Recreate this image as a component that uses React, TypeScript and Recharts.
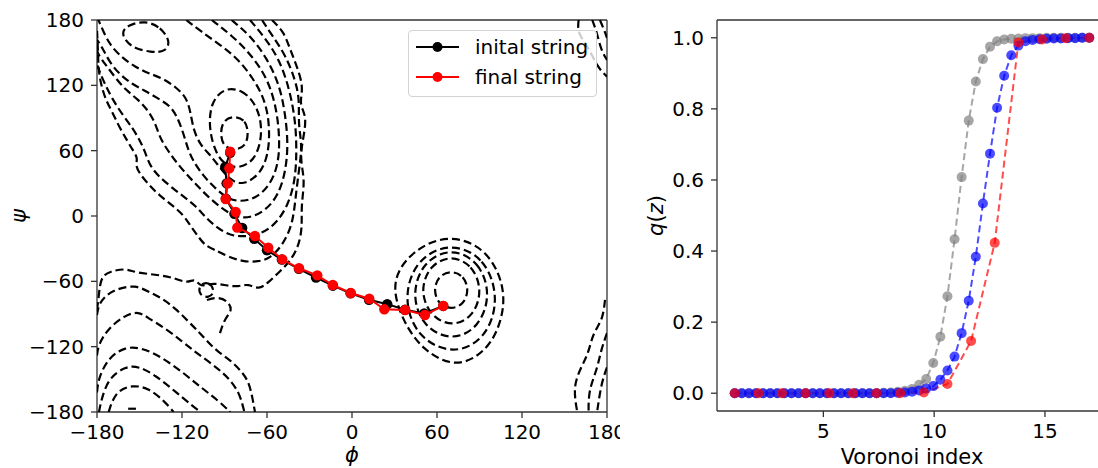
import React from 'react';
import { ScatterChart, Scatter, LineChart, Line, XAxis, YAxis, ReferenceLine } from 'recharts';

type P = [number, number];

const FONT = '"DejaVu Sans", sans-serif';

// ---- left panel: contour lines, [phi, psi] in degrees ----
// closed contours
const basinInner: P[] = [[-83, 92], [-75, 88], [-73, 76], [-75, 64], [-83, 60], [-91, 64], [-93, 76], [-91, 88]];
const basinSecond: P[] = [[-90, 118], [-78, 116], [-69, 105], [-64, 88], [-64, 69], [-69, 51], [-79, 44], [-89, 46], [-96, 57], [-101, 79], [-100, 104]];
const betaEllipse: P[] = [[-146, 179.5], [-135, 173.5], [-128, 160], [-131.5, 151], [-141.5, 150], [-157, 155], [-163.5, 168.5], [-158, 175.5]];
const islandC1: P[] = [[70, -50], [79, -55], [82.5, -68], [79, -81], [70, -86], [61, -81], [57.5, -68], [61, -55]];
const islandC2: P[] = [[70, -36], [85, -45], [92, -68], [86, -92], [71, -102], [55, -92], [48, -68], [55, -45]];
const islandC3: P[] = [[70, -29], [90, -42], [98, -72], [90, -102], [71, -115], [50, -102], [42, -72], [50, -42]];
const islandC4: P[] = [[69, -24], [94, -38], [104, -76], [95, -112], [72, -128], [46, -112], [36, -76], [45, -40]];
const islandC5: P[] = [[68, -16], [96, -30], [109, -68], [105, -100], [95, -124], [74, -140], [50, -124], [35, -95], [27, -60], [42, -32]];
const midLoop: P[] = [[-108, -63], [-101, -60], [-96.5, -69.5], [-101, -75.6], [-108, -72.6]];

// open contours
const valleyA3: P[] = [[-117, 180], [-107, 170], [-93, 157], [-81, 145], [-70, 127], [-61, 106], [-58, 81], [-59, 56], [-65, 38], [-77, 28], [-86, 33], [-93, 44], [-100, 56], [-107, 65], [-112, 79], [-114, 96], [-117, 109], [-124, 118], [-134, 127], [-144, 131], [-153, 137], [-162, 145], [-171, 157], [-176, 171], [-179, 180]];
const valleyA4: P[] = [[-99, 180], [-85, 166], [-71, 148], [-59, 125], [-53, 97], [-51, 70], [-52, 47], [-58, 28], [-68, 16], [-79, 13], [-88, 16], [-97, 26], [-105, 37], [-112, 50], [-116, 62], [-119, 76], [-123, 90], [-128, 101], [-137, 108], [-146, 115], [-155, 121], [-164, 130], [-171, 141], [-176, 154], [-180, 162]];
const valleyA5: P[] = [[-85, 180], [-72, 166], [-60, 145], [-51, 120], [-47, 93], [-45, 65], [-47, 40], [-52, 19], [-61, 5], [-72, -2], [-82, -1], [-92, 7], [-102, 18], [-110, 29], [-118, 40], [-125, 51], [-131, 62], [-136, 73], [-139, 86], [-144, 97], [-151, 107], [-160, 116], [-167, 127], [-174, 139], [-179, 148], [-180, 152]];
const valleyA6: P[] = [[-72, 180], [-61, 163], [-51, 143], [-44, 116], [-40, 88], [-39, 61], [-40, 33], [-45, 10], [-54, -8], [-65, -17], [-76, -19], [-86, -18], [-95, -11], [-103, -2], [-110, 9], [-119, 18], [-128, 27], [-137, 37], [-143, 47], [-146, 59], [-150, 70], [-155, 81], [-162, 93], [-169, 107], [-174, 120], [-178, 132], [-180, 139]];
const valleyA7: P[] = [[-63.5, 180], [-56.5, 166], [-47, 148], [-40, 125], [-37, 106.5], [-38, 83.6], [-35, 65], [-37.5, 42], [-40, 14.7], [-42, -8], [-49, -27], [-58, -39], [-66, -42], [-77, -42], [-88, -37], [-97, -31], [-104, -27], [-109, -18], [-114, -9], [-119, 1], [-127, 10], [-136, 19], [-143, 28], [-150, 39], [-153, 47], [-151, 53], [-155, 61], [-159, 70], [-164, 81], [-169, 95], [-174, 107], [-177, 120], [-179, 134], [-179.3, 152.5], [-180, 171]];
const valleyA8: P[] = [[-56.5, 180], [-48, 169], [-44, 154], [-39, 138], [-34, 117.6], [-37.5, 103], [-32, 92], [-34, 74], [-37, 53], [-33, 33], [-36, 10], [-35, -11], [-38, -29], [-44, -42], [-51, -51], [-59, -61], [-66, -68], [-73, -62], [-80.5, -65], [-88, -64], [-95, -62], [-102, -62.5], [-107, -65], [-111, -57], [-116, -62], [-125, -57], [-137, -54], [-153, -52], [-160, -48], [-171, -51], [-176, -55], [-178, -63], [-179, -77], [-180, -86]];
const lowB1: P[] = [[-158, -177], [-152.5, -177]];
const lowB2: P[] = [[-171.8, -180], [-167, -161], [-155, -155], [-143.5, -158], [-132, -170.5], [-126, -180]];
const lowB3: P[] = [[-178.6, -180], [-177, -169], [-172, -149], [-160, -138], [-150.6, -138], [-139, -146], [-125, -161], [-113, -174], [-107, -180]];
const lowB4: P[] = [[-180, -162], [-179, -149], [-172, -130], [-160, -120], [-148, -121], [-134, -130], [-120, -143], [-106, -158], [-94, -170], [-86, -180]];
const lowB5: P[] = [[-180, -128], [-179, -118], [-172, -103], [-160, -91], [-150.6, -87.5], [-143.5, -94], [-132, -103], [-120, -115], [-111, -124.6], [-101, -133.8], [-92, -143], [-85, -152], [-79, -164], [-76, -180]];
const lowB6: P[] = [[-180, -91], [-179, -82], [-174, -72.6], [-164.7, -66.4], [-153, -63.4], [-143.5, -69.5], [-134, -75.6], [-124.8, -84.8], [-115.3, -97.1], [-108.3, -106.3], [-101.7, -115.7], [-94.6, -124.9], [-86, -132.2], [-79, -141.4], [-73.4, -150.6], [-70.6, -164.4], [-68.5, -180]];
const midWiggle: P[] = [[-102.4, -77.2], [-95.3, -74.4], [-88.3, -77.2], [-84, -86.3], [-89.7, -93.7], [-93.2, -107.5]];
const edgeTR1: P[] = [[160, 180], [159, 168], [167, 155], [173, 137], [180, 128]];
const edgeTR2: P[] = [[169.6, 180], [173, 168], [175.8, 152.5], [180, 143.3]];
const edgeTR3: P[] = [[175, 180], [178, 171], [180, 163.5]];
const edgeBR1: P[] = [[178.6, -77], [177, -95.5], [170, -107.5], [167, -126], [161.6, -139], [156, -157], [159, -180]];
const edgeBR2: P[] = [[180, -107.5], [175.8, -123], [173, -141], [167, -160], [167, -180]];
const edgeBR3: P[] = [[180, -139], [176, -153.4], [173, -180]];

const closedContours = [basinInner, basinSecond, betaEllipse, islandC1, islandC2, islandC3, islandC4, islandC5, midLoop];
const openContours = [valleyA3, valleyA4, valleyA5, valleyA6, valleyA7, valleyA8, lowB1, lowB2, lowB3, lowB4, lowB5, lowB6, midWiggle, edgeTR1, edgeTR2, edgeTR3, edgeBR1, edgeBR2, edgeBR3];

// strings
const initialString: P[] = [[-86, 58], [-89.5, 45], [-88.5, 30], [-89, 16], [-83, 2], [-77.5, -11], [-69, -21], [-60, -31.5], [-49.5, -40], [-37.5, -48.5], [-25.4, -56.5], [-13.5, -64], [-1, -71], [12, -77], [24.9, -81], [37.5, -86], [51, -89.5], [64.4, -82.6]];
const finalString: P[] = [[-86, 59], [-86.6, 43.8], [-87.7, 30], [-89.2, 15.6], [-82.1, 3.7], [-81, -10.7], [-68.5, -18.4], [-59.1, -29.1], [-49.2, -39.8], [-37.4, -48], [-24.5, -54.5], [-13.6, -63.4], [-0.9, -70.7], [12.2, -76], [22.8, -85.7], [37.4, -86.3], [51.5, -90.9], [64.4, -82.6]];

const angleTicks = [-180, -120, -60, 0, 60, 120, 180];
const legendLabels = ['inital string', 'final string'];
const legendColors = ['#000000', '#ff0000'];

// ---- right panel ----
const fineX = [1.0, 1.32, 1.64, 1.96, 2.28, 2.6, 2.92, 3.24, 3.56, 3.88, 4.2, 4.52, 4.84, 5.16, 5.48, 5.8, 6.12, 6.44, 6.76, 7.08, 7.4, 7.72, 8.04, 8.36, 8.68, 9.0, 9.32, 9.64, 9.96, 10.28, 10.6, 10.92, 11.24, 11.56, 11.88, 12.2, 12.52, 12.84, 13.16, 13.48, 13.8, 14.12, 14.44, 14.76, 15.08, 15.4, 15.72, 16.04, 16.36, 16.68, 17.0];
const grayQ = [0, 0, 0, 0, 0, 0, 0, 0, 0, 0, 0, 0, 0, 0, 0, 0, 0, 0, 0, 0, 0, 0.001, 0.002, 0.004, 0.007, 0.012, 0.024, 0.04, 0.085, 0.159, 0.273, 0.433, 0.608, 0.767, 0.877, 0.94, 0.975, 0.99, 0.995, 0.997, 0.998, 0.999, 0.999, 0.999, 1, 1, 1, 1, 1, 1, 1];
const blueQ = [0, 0, 0, 0, 0, 0, 0, 0, 0, 0, 0, 0, 0, 0, 0, 0, 0, 0, 0, 0, 0, 0, 0, 0.001, 0.002, 0.004, 0.008, 0.013, 0.02, 0.038, 0.064, 0.103, 0.169, 0.26, 0.384, 0.534, 0.674, 0.803, 0.893, 0.951, 0.978, 0.99, 0.994, 0.996, 0.997, 0.998, 0.998, 0.999, 0.999, 1, 1];
const redX = [1.0, 2.067, 3.133, 4.2, 5.267, 6.333, 7.4, 8.467, 9.533, 10.6, 11.667, 12.733, 13.8, 14.867, 15.933, 17.0];
const redQ = [0, 0, 0, 0, 0, 0, 0, 0, 0.002, 0.026, 0.147, 0.423, 0.987, 0.995, 0.999, 1];
const qTicks = [0, 0.2, 0.4, 0.6, 0.8, 1.0];
const indexTicks = [5, 10, 15];

const pts = (c: P[]) => c.map(([phi, psi]) => ({ phi, psi }));
const series = (xs: number[], ys: number[]) => xs.map((x, i) => ({ x, q: ys[i] }));

const minus = (v: number) => (v < 0 ? '\u2212' + Math.abs(v) : String(v));
const noShape = () => <g />;
const dotShape = (color: string) => (p: any) => <circle cx={p.cx} cy={p.cy} r={5.2} fill={color} />;

const dash = { stroke: '#000', strokeWidth: 2.2, strokeDasharray: '8 4', fill: 'none' };
const tickStyle = { fill: '#000', fontSize: 20, fontFamily: FONT };
const axisStyle = { stroke: '#333', strokeWidth: 1.3 };

const seriesDot = (color: string) => ({ r: 5, fill: color, fillOpacity: 0.7, stroke: 'none' });

export default function App() {
  return (
    <div style={{ position: 'absolute', left: 0, top: 0, width: 1098, height: 468, overflow: 'hidden', background: '#fff', fontFamily: FONT }}>
      <div style={{ position: 'absolute', left: 0, top: 0 }}>
        <ScatterChart width={620} height={468} margin={{ top: 20, right: 13, bottom: 6, left: 0 }}>
          <XAxis
            type="number"
            dataKey="phi"
            domain={[-180, 180]}
            ticks={angleTicks}
            interval={0}
            allowDataOverflow
            height={50}
            tickSize={6}
            tickMargin={7}
            tick={tickStyle}
            tickLine={axisStyle}
            axisLine={axisStyle}
            tickFormatter={minus}
            label={(p: any) => (
              <text x={p.viewBox.x + p.viewBox.width / 2} y={462} textAnchor="middle" fontSize={21} fontStyle="italic" fontFamily={FONT} fill="#000">ϕ</text>
            )}
          />
          <YAxis
            type="number"
            dataKey="psi"
            domain={[-180, 180]}
            ticks={angleTicks}
            interval={0}
            allowDataOverflow
            width={97}
            tickSize={6}
            tickMargin={7}
            tick={tickStyle}
            tickLine={axisStyle}
            axisLine={axisStyle}
            tickFormatter={minus}
            label={(p: any) => {
              const cy = p.viewBox.y + p.viewBox.height / 2;
              return (
                <text x={19} y={cy} transform={`rotate(-90, 19, ${cy})`} textAnchor="middle" dominantBaseline="central" fontSize={21} fontStyle="italic" fontFamily={FONT} fill="#000">ψ</text>
              );
            }}
          />
          <ReferenceLine y={180} stroke="#333" strokeWidth={1.3} />
          <ReferenceLine x={180} stroke="#333" strokeWidth={1.3} />
          {closedContours.map((c, i) => (
            <Scatter key={'c' + i} data={pts(c)} line={dash} lineJointType="basisClosed" shape={noShape} isAnimationActive={false} />
          ))}
          {openContours.map((c, i) => (
            <Scatter key={'o' + i} data={pts(c)} line={dash} lineJointType="basis" shape={noShape} isAnimationActive={false} />
          ))}
          <Scatter data={pts(initialString)} line={{ stroke: '#000', strokeWidth: 2 }} shape={dotShape('#000')} isAnimationActive={false} />
          <Scatter data={pts(finalString)} line={{ stroke: '#ff0000', strokeWidth: 2 }} shape={dotShape('#ff0000')} isAnimationActive={false} />
        </ScatterChart>
      </div>

      <div style={{ position: 'absolute', left: 408, top: 30, width: 187, height: 65, border: '1px solid #d3d3d3', borderRadius: 4, background: 'rgba(255,255,255,0.8)', fontSize: 20, color: '#000' }}>
        {legendLabels.map((label, i) => (
          <div key={label} style={{ position: 'absolute', left: 0, top: 3 + i * 30, height: 26, display: 'flex', alignItems: 'center', whiteSpace: 'nowrap' }}>
            <svg width={60} height={26}>
              <line x1={7} y1={13} x2={50} y2={13} stroke={legendColors[i]} strokeWidth={2} />
              <circle cx={28.5} cy={13} r={5} fill={legendColors[i]} />
            </svg>
            <span style={{ marginLeft: 6 }}>{label}</span>
          </div>
        ))}
      </div>

      <div style={{ position: 'absolute', left: 620, top: 0 }}>
        <LineChart width={500} height={468} margin={{ top: 20, right: 13, bottom: 7, left: 0 }}>
          <XAxis
            type="number"
            dataKey="x"
            domain={[0.2, 17.8]}
            ticks={indexTicks}
            interval={0}
            allowDataOverflow
            height={50}
            tickSize={6}
            tickMargin={7}
            tick={tickStyle}
            tickLine={axisStyle}
            axisLine={axisStyle}
            label={(p: any) => (
              <text x={p.viewBox.x + p.viewBox.width / 2} y={464} textAnchor="middle" fontSize={21} fontFamily={FONT} fill="#000">Voronoi index</text>
            )}
          />
          <YAxis
            type="number"
            domain={[-0.05, 1.05]}
            ticks={qTicks}
            interval={0}
            allowDataOverflow
            width={97}
            tickSize={6}
            tickMargin={7}
            tick={tickStyle}
            tickLine={axisStyle}
            axisLine={axisStyle}
            tickFormatter={(v: number) => v.toFixed(1)}
            label={(p: any) => {
              const cy = p.viewBox.y + p.viewBox.height / 2;
              return (
                <text x={36} y={cy} transform={`rotate(-90, 36, ${cy})`} textAnchor="middle" dominantBaseline="central" fontSize={21} fontFamily={FONT} fill="#000">
                  <tspan fontStyle="italic">q</tspan>(<tspan fontStyle="italic">z</tspan>)
                </text>
              );
            }}
          />
          <ReferenceLine y={1.05} stroke="#333" strokeWidth={1.3} />
          <ReferenceLine x={17.8} stroke="#333" strokeWidth={1.3} />
          <Line data={series(fineX, grayQ)} dataKey="q" stroke="#808080" strokeOpacity={0.7} strokeWidth={2} strokeDasharray="7 4" dot={seriesDot('#808080')} activeDot={false} isAnimationActive={false} />
          <Line data={series(fineX, blueQ)} dataKey="q" stroke="#0000ff" strokeOpacity={0.7} strokeWidth={2} strokeDasharray="7 4" dot={seriesDot('#0000ff')} activeDot={false} isAnimationActive={false} />
          <Line data={series(redX, redQ)} dataKey="q" stroke="#ff0000" strokeOpacity={0.7} strokeWidth={2} strokeDasharray="7 4" dot={seriesDot('#ff0000')} activeDot={false} isAnimationActive={false} />
        </LineChart>
      </div>
    </div>
  );
}
